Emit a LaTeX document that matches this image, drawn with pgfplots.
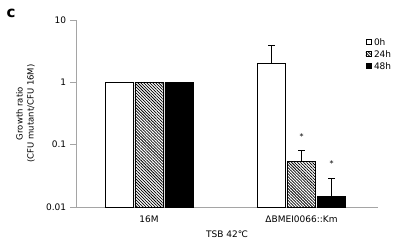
\documentclass[border=0pt]{standalone}
\usepackage{fontspec}
\setmainfont{DejaVu Sans}
\usepackage{pgfplots}
\pgfplotsset{compat=1.18}
\usetikzlibrary{patterns.meta}
\definecolor{axgray}{RGB}{165,165,165}
\pgfplotstableread{
x y e
0.4834 1 0
1.4934 2.04 1.83
}\zeroh
\pgfplotstableread{
x y e
0.4834 1 0
1.4934 0.0546 0.026
}\tfh
\pgfplotstableread{
x y e
0.4834 1 0
1.4934 0.015 0.0138
}\feh
\begin{document}
\fontsize{8pt}{9.6pt}\selectfont
\begin{tikzpicture}
\useasboundingbox (-76pt,-35pt) rectangle (322pt,207pt);
\begin{axis}[
  scale only axis, width=302pt, height=187pt,
  at={(0pt,0pt)}, anchor=south west,
  ymode=log, log origin=infty,
  ymin=0.01, ymax=10, xmin=0, xmax=2,
  axis lines=left,
  axis line style={axgray, line width=0.8pt, -},
  ytick={0.01,0.1,1,10}, yticklabels={0.01,0.1,1,10},
  minor tick length=0pt,
  tick align=outside,
  ytick style={draw=axgray, line width=0.8pt},
  y tick label style={font=\fontsize{9pt}{10pt}\selectfont, xshift=-1pt},
  major tick length=6pt,
  xtick={0.4834,1.4934},
  xticklabels={16M,ΔBMEI0066::Km},
  xtick style={draw=none},
  x tick label style={font=\fontsize{9pt}{10pt}\selectfont},
  extra x ticks={1,2},
  extra x tick labels={},
  extra x tick style={tick align=center, major tick length=4pt, tick style={draw=axgray, line width=0.8pt}},
  /pgf/number format/assume math mode=true,
  xlabel={TSB 42℃},
  xlabel style={at={(axis description cs:0.5,0)}, anchor=center, yshift=-27pt, font=\fontsize{9pt}{10pt}\selectfont},
  ylabel={Growth ratio\\(CFU mutant/CFU 16M)},
  ylabel style={align=center, at={(axis description cs:-0.167,0.5)}, anchor=center, font=\fontsize{8.5pt}{11pt}\selectfont},
  ybar, bar width=28pt,
  legend style={draw=none, fill=none, at={(0.958,0.909)}, anchor=north west, inner sep=0pt,
    font=\fontsize{9pt}{10pt}\selectfont, row sep=2pt,
    nodes={inner sep=1pt, text height=7pt, text depth=1pt},
    /tikz/every odd column/.append style={column sep=2pt}},
  legend cell align=left,
  legend image code/.code={\draw[#1, line width=0.5pt] (0pt,-2.5pt) rectangle (5pt,2.5pt);},
  clip=false,
]
\addplot[bar shift=-30pt, fill=white, draw=black, line width=0.8pt,
  error bars/.cd, y dir=plus, y explicit,
  error bar style={line width=0.8pt, black},
  error mark options={rotate=90, mark size=3.5pt, line width=0.8pt, black}]
  table[x=x, y=y, y error=e] {\zeroh};
\addlegendentry{0h}
\addplot[bar shift=0pt, fill=white, pattern={Lines[angle=-45, distance=2.1pt, line width=0.75pt]}, draw=black, line width=0.8pt,
  error bars/.cd, y dir=plus, y explicit,
  error bar style={line width=0.8pt, black},
  error mark options={rotate=90, mark size=3.5pt, line width=0.8pt, black}]
  table[x=x, y=y, y error=e] {\tfh};
\addlegendentry{24h}
\addplot[bar shift=30pt, fill=black, draw=black, line width=0.8pt,
  error bars/.cd, y dir=plus, y explicit,
  error bar style={line width=0.8pt, black},
  error mark options={rotate=90, mark size=3.5pt, line width=0.8pt, black}]
  table[x=x, y=y, y error=e] {\feh};
\addlegendentry{48h}
\node[inner sep=0pt, font=\fontsize{8pt}{8pt}\selectfont, yshift=-2pt] at (axis cs:1.4934,0.143) {*};
\node[inner sep=0pt, font=\fontsize{8pt}{8pt}\selectfont, yshift=-1.5pt] at (axis cs:1.6921,0.052) {*};
\end{axis}
\node[font=\bfseries\fontsize{15pt}{15pt}\selectfont, inner sep=0pt] at (-65pt,194pt) {c};
\end{tikzpicture}
\end{document}
